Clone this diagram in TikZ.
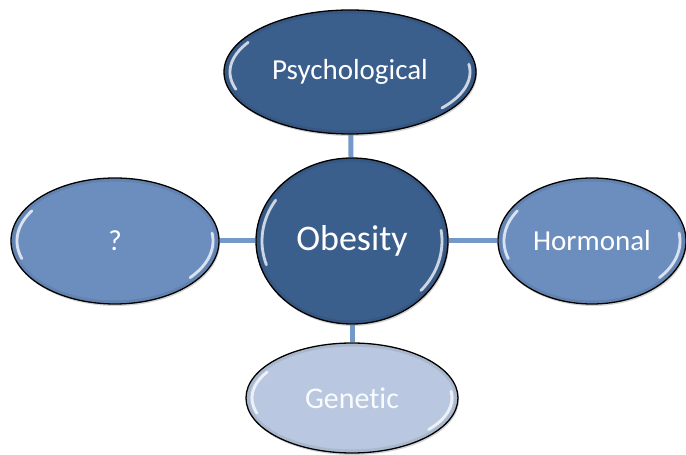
\documentclass[tikz,border=0pt]{standalone}
\usepackage{fontspec}
\setmainfont{Carlito}[Ligatures=NoCommon]
\usetikzlibrary{shapes.geometric,shadows,backgrounds}
\definecolor{dkblue}{HTML}{3B5F8D}
\definecolor{mdblue}{HTML}{6B8EBF}
\definecolor{ltblue}{HTML}{B9C8E0}
\definecolor{connblue}{HTML}{7498C8}
\tikzset{
  gloss/.style={draw=white, line width=2.8pt, line cap=round, opacity=0.75},
  bubble/.style n args={3}{ellipse, draw=black, line width=1.3pt, fill=#3,
    minimum width=#1, minimum height=#2, inner sep=0pt, text=white,
    drop shadow={opacity=0.35, shadow xshift=1pt, shadow yshift=-2pt},
    path picture={
      \draw[black, opacity=0.08, line width=7pt] (path picture bounding box.center)
        ellipse[x radius=0.5*#1, y radius=0.5*#2];
      \draw[gloss] ([shift={(148:0.5*#1-6pt and 0.5*#2-6pt)}]path picture bounding box.center)
        arc[start angle=148, end angle=198, x radius=0.5*#1-6pt, y radius=0.5*#2-6pt];
      \draw[gloss] ([shift={(-40:0.5*#1-6pt and 0.5*#2-6pt)}]path picture bounding box.center)
        arc[start angle=-40, end angle=8, x radius=0.5*#1-6pt, y radius=0.5*#2-6pt];
    }},
  lbl/.style={font=\fontsize{29}{33}\selectfont},
  conn/.style={draw=connblue, line width=5pt},
}
\begin{document}
\begin{tikzpicture}[x=1pt,y=1pt]
\useasboundingbox (0,0) rectangle (686,455);
\node[bubble={252pt}{124pt}{dkblue}, lbl] (psy) at (350,383) {Psychological};
\node[bubble={192pt}{166pt}{dkblue}, font=\fontsize{36}{40}\selectfont] (ob) at (352,214) {Obesity};
\node[bubble={208pt}{126pt}{mdblue}, lbl] (q) at (115,214) {?};
\node[bubble={188pt}{126pt}{mdblue}, lbl] (hor) at (592,214) {Hormonal};
\node[bubble={212pt}{110pt}{ltblue}, font=\fontsize{30}{34}\selectfont, text=white!92!ltblue] (gen) at (352,57) {Genetic};
\begin{scope}[on background layer]
  \draw[conn] (psy) -- (ob);
  \draw[conn] (ob) -- (gen);
  \draw[conn] (q) -- (ob);
  \draw[conn] (ob) -- (hor);
\end{scope}
\end{tikzpicture}
\end{document}
